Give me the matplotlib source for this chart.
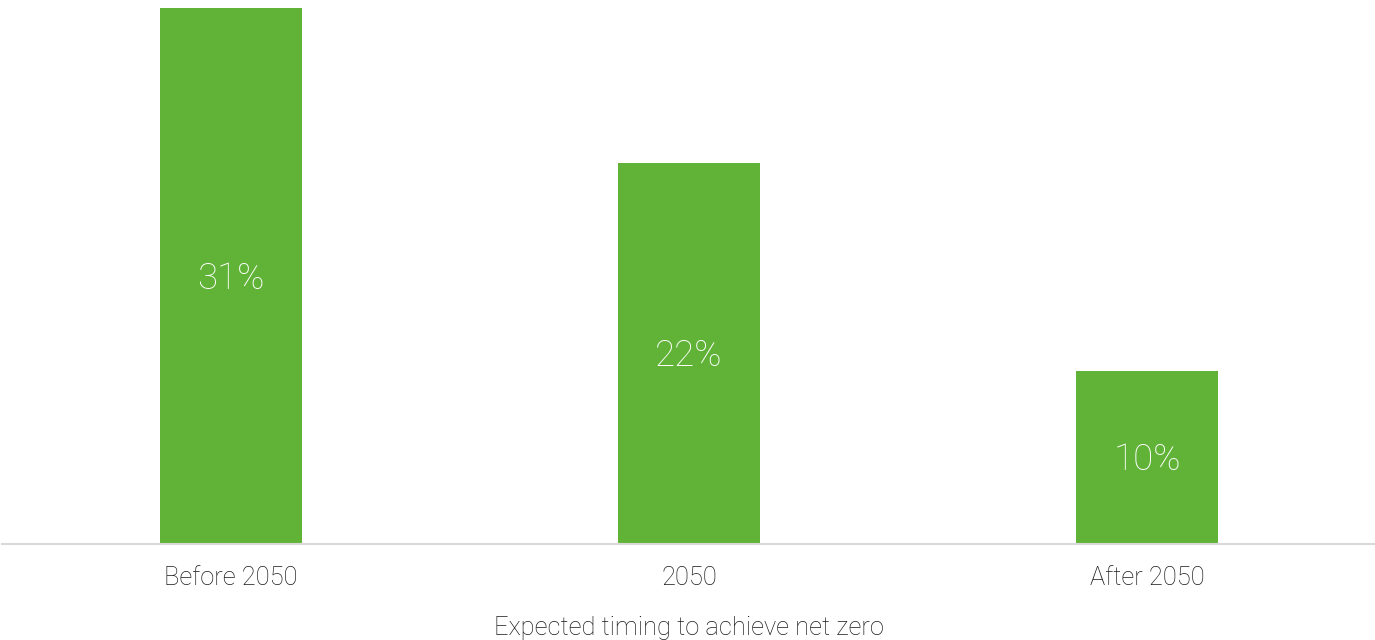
import matplotlib
matplotlib.use("Agg")
import matplotlib.pyplot as plt

categories = ["Before 2050", "2050", "After 2050"]
shares = [31, 22, 10]
x_title = "Expected timing to achieve net zero"

W, H, DPI = 1375, 640, 100
BAR_GREEN = "#60b337"
TEXT = "#1a1a1a"

plt.rcParams["font.family"] = ["Roboto", "DejaVu Sans"]

fig = plt.figure(figsize=(W / DPI, H / DPI), dpi=DPI, facecolor="white")
# axes span the full width; baseline sits ~96px above the bottom edge
ax = fig.add_axes([2 / W, 96.5 / H, 1374 / W, 543.5 / H])

pos = range(len(categories))
ax.bar(pos, shares, width=0.312, color=BAR_GREEN, zorder=2)
for i, v in zip(pos, shares):
    ax.annotate(f"{v}%", (i, v / 2), xytext=(0, -3), textcoords="offset pixels",
                ha="center", va="center", color="white",
                fontsize=26.4, fontweight="light")

ax.set_xlim(-0.5, len(categories) - 0.5)
ax.set_ylim(0, 31.45)
ax.set_yticks([])
ax.set_xticks(list(pos))
ax.set_xticklabels(categories, fontsize=18.4, fontweight="light", color=TEXT)
ax.tick_params(axis="x", length=0, pad=16.5)
for side in ("top", "right", "left"):
    ax.spines[side].set_visible(False)
ax.spines["bottom"].set_color("#d9d9d9")
ax.spines["bottom"].set_linewidth(1.5)

fig.text(689 / W, 1 - 628 / H, x_title, ha="center", va="center",
         fontsize=18.4, fontweight="light", color=TEXT)

fig.savefig("out.png", dpi=DPI, facecolor=fig.get_facecolor())
plt.close(fig)
